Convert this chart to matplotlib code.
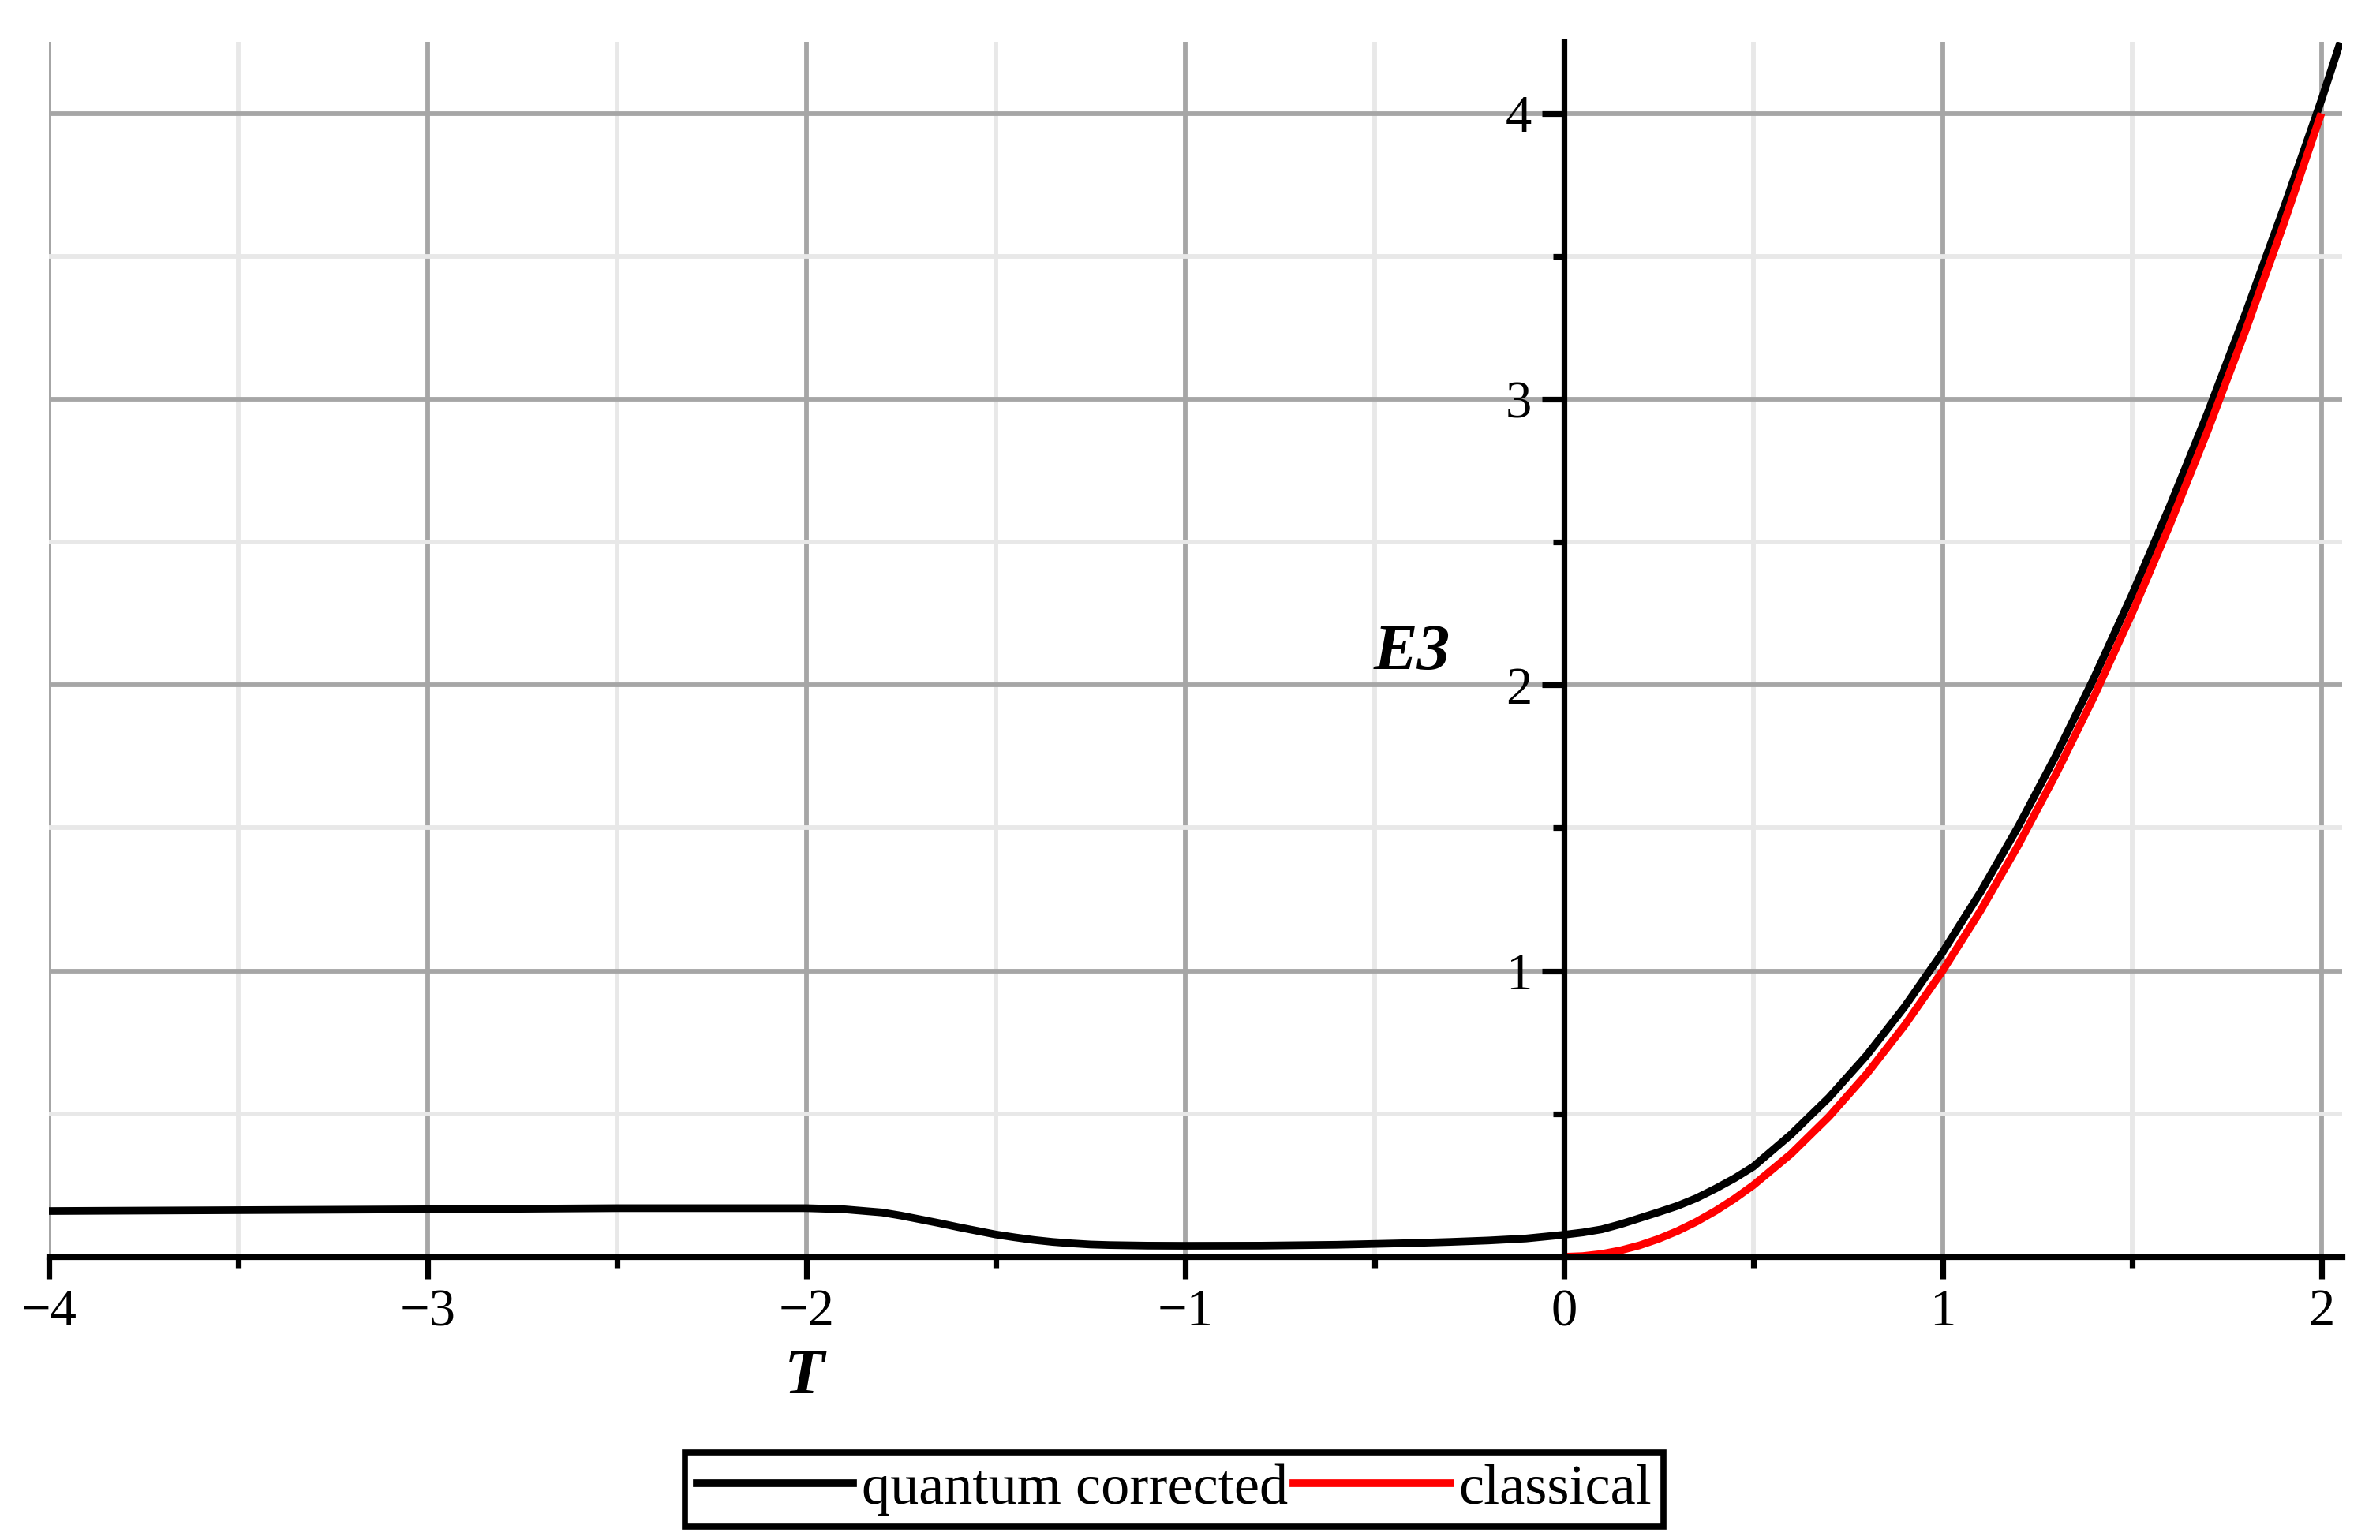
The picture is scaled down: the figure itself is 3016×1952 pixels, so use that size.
import numpy as np
import matplotlib
matplotlib.use("Agg")
import matplotlib.pyplot as plt
from matplotlib.lines import Line2D

plt.rcParams['font.family'] = ['Liberation Serif', 'DejaVu Serif']
plt.rcParams['axes.unicode_minus'] = True

# ---------------- data ----------------
T_quantum = [-4.0, -3.5, -3.0, -2.5, -2.2, -2.0, -1.9, -1.8, -1.75, -1.7, -1.65,
             -1.6, -1.55, -1.5, -1.45, -1.4, -1.35, -1.3, -1.25, -1.2, -1.1, -1.0,
             -0.8, -0.6, -0.5, -0.4, -0.3, -0.2, -0.1, 0.0, 0.05, 0.1, 0.15, 0.2, 0.25,
             0.3, 0.35, 0.4, 0.45, 0.5, 0.6, 0.7, 0.8, 0.9, 1.0, 1.1, 1.2, 1.3, 1.4,
             1.5, 1.6, 1.7, 1.8, 1.9, 2.0, 2.05]
E_quantum = [0.160, 0.163, 0.166, 0.170, 0.170, 0.170, 0.166, 0.155, 0.144, 0.131, 0.118,
             0.104, 0.091, 0.078, 0.068, 0.059, 0.052, 0.047, 0.043, 0.041, 0.039, 0.0385,
             0.039, 0.042, 0.045, 0.048, 0.052, 0.057, 0.064, 0.077, 0.085, 0.096, 0.114, 0.135, 0.156,
             0.178, 0.205, 0.238, 0.274, 0.315, 0.428, 0.557, 0.705, 0.875, 1.065, 1.275, 1.505, 1.755, 2.025,
             2.315, 2.625, 2.952, 3.300, 3.665, 4.045, 4.248]

T_classical = [0.0, 0.05, 0.1, 0.15, 0.2, 0.25, 0.3, 0.35, 0.4, 0.45, 0.5, 0.6, 0.7, 0.8, 0.9, 1.0,
               1.1, 1.2, 1.3, 1.4, 1.5, 1.6, 1.7, 1.8, 1.9, 2.0]
E_classical = [0.0, 0.0025, 0.01, 0.0225, 0.04, 0.0625, 0.09, 0.1225, 0.16, 0.2025, 0.25, 0.36,
               0.49, 0.64, 0.81, 1.0, 1.21, 1.44, 1.69, 1.96, 2.25, 2.56, 2.89, 3.24, 3.61, 4.0]

x_major = [-4, -3, -2, -1, 0, 1, 2]
x_labels = ['\u22124', '\u22123', '\u22122', '\u22121', '0', '1', '2']
x_minor = [-3.5, -2.5, -1.5, -0.5, 0.5, 1.5]
y_major = [1, 2, 3, 4]
y_labels = ['1', '2', '3', '4']
y_minor = [0.5, 1.5, 2.5, 3.5]

series_names = ['quantum corrected', 'classical']
series_colors = ['#000000', '#ff0000']

# ---------------- figure ----------------
W, H = 3016, 1952
fig = plt.figure(figsize=(W / 100, H / 100), dpi=100)
ax = fig.add_axes([62 / W, (H - 1593) / H, (2968 - 62) / W, (1593 - 53) / H])

ax.set_xlim(-4, 2.055)
ax.set_ylim(0, 4.25)

ax.plot(T_quantum, E_quantum, color=series_colors[0], lw=7.0, solid_capstyle='butt',
        solid_joinstyle='round', zorder=3)
ax.plot(T_classical, E_classical, color=series_colors[1], lw=7.0, solid_capstyle='butt',
        solid_joinstyle='round', zorder=4)

for s in ['top', 'right']:
    ax.spines[s].set_visible(False)
ax.spines['left'].set_position(('data', 0))
ax.spines['bottom'].set_position(('data', 0))
for s in ['left', 'bottom']:
    ax.spines[s].set_linewidth(5.2)
    ax.spines[s].set_zorder(5)

ax.set_xticks(x_major)
ax.set_xticklabels(x_labels)
ax.set_xticks(x_minor, minor=True)
ax.set_yticks(y_major)
ax.set_yticklabels(y_labels)
ax.set_yticks(y_minor, minor=True)

ax.tick_params(which='major', direction='out', length=20, width=5.2, labelsize=48, pad=9)
ax.tick_params(which='minor', direction='out', length=10, width=5.2)

ax.set_axisbelow(True)
ax.grid(which='major', color='#a6a6a6', lw=4.2)
ax.grid(which='minor', color='#e8e8e8', lw=4.2)

ax.text(-0.40, 2.11, 'E3', fontsize=60, fontweight='bold', fontstyle='italic',
        ha='center', va='center')
fig.text(1019 / W, 1 - 1747 / H, 'T', fontsize=60, fontweight='bold', fontstyle='italic',
         ha='center', va='center')

handles = [Line2D([], [], color=c, lw=7.0) for c in series_colors]
leg = fig.legend(handles, series_names, loc='center', bbox_to_anchor=(1488 / W, 1 - 1888 / H),
                 ncol=2, frameon=True, fancybox=False, edgecolor='black', framealpha=1,
                 fontsize=52, borderpad=0.2, handlelength=2.75, handletextpad=0.15,
                 columnspacing=0.1, borderaxespad=0)
leg.get_frame().set_linewidth(5.5)

fig.savefig('out.png', dpi=100)
